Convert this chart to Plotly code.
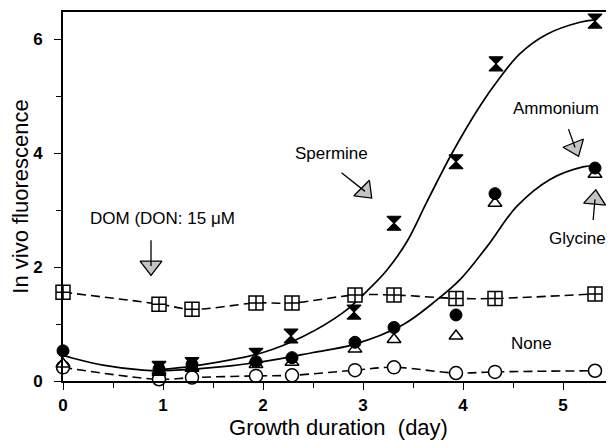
import plotly.graph_objects as go

# ---- data ----
days_sp = [0.96, 1.29, 1.93, 2.28, 2.91, 3.31, 3.93, 4.33, 5.32]
spermine = [0.22, 0.29, 0.45, 0.79, 1.21, 2.77, 3.85, 5.57, 6.32]

days = [0.0, 0.96, 1.29, 1.93, 2.29, 2.92, 3.31, 3.93, 4.32, 5.32]
dom = [1.56, 1.35, 1.26, 1.37, 1.37, 1.51, 1.51, 1.45, 1.45, 1.53]
none_ = [0.24, 0.03, 0.06, 0.09, 0.10, 0.19, 0.24, 0.14, 0.16, 0.18]
ammonium = [0.53, 0.21, 0.29, 0.34, 0.41, 0.68, 0.94, 1.16, 3.29, 3.74]
glycine = [0.30, 0.18, 0.24, 0.29, 0.33, 0.56, 0.73, 0.79, 3.12, 3.63]

# fitted curves
fit_sp_x = [0.96, 1.3, 2.0, 2.4, 2.8, 3.04, 3.24, 3.44, 3.64, 3.89, 4.17, 4.37, 4.57, 4.84, 5.17, 5.32]
fit_sp_y = [0.20, 0.26, 0.50, 0.78, 1.20, 1.58, 1.95, 2.45, 3.15, 4.00, 4.83, 5.33, 5.75, 6.09, 6.30, 6.34]
fit_am_x = [0.0, 0.1, 0.4, 0.8, 1.0, 1.4, 2.0, 2.5, 2.9, 3.4, 3.7, 3.97, 4.24, 4.54, 4.87, 5.2, 5.32]
fit_am_y = [0.45, 0.40, 0.28, 0.19, 0.18, 0.22, 0.34, 0.50, 0.64, 0.99, 1.37, 1.78, 2.36, 3.07, 3.54, 3.76, 3.78]

xticks = [0, 1, 2, 3, 4, 5]
yticks = [0, 2, 4, 6]

FONT = "Liberation Sans"

fig = go.Figure()

# lines
fig.add_trace(go.Scatter(x=days, y=dom, mode="lines", line=dict(color="black", width=1.6, dash="9px,5px", shape="spline"), hoverinfo="skip"))
fig.add_trace(go.Scatter(x=days, y=none_, mode="lines", line=dict(color="black", width=1.6, dash="9px,5px", shape="spline"), hoverinfo="skip"))
fig.add_trace(go.Scatter(x=fit_am_x, y=fit_am_y, mode="lines", line=dict(color="black", width=1.7, shape="spline"), hoverinfo="skip"))
fig.add_trace(go.Scatter(x=fit_sp_x, y=fit_sp_y, mode="lines", line=dict(color="black", width=1.7, shape="spline"), hoverinfo="skip"))

# markers
fig.add_trace(go.Scatter(x=days, y=none_, mode="markers", cliponaxis=False,
                         marker=dict(symbol="circle", size=13, color="white", line=dict(color="black", width=1.5))))
fig.add_trace(go.Scatter(x=days, y=dom, mode="markers", cliponaxis=False,
                         marker=dict(symbol="square-cross", size=14, color="white", line=dict(color="black", width=1.5))))
fig.add_trace(go.Scatter(x=days, y=glycine, mode="markers", cliponaxis=False,
                         marker=dict(symbol="triangle-up", size=12, color="white", line=dict(color="black", width=1.5))))
fig.add_trace(go.Scatter(x=days, y=ammonium, mode="markers", cliponaxis=False,
                         marker=dict(symbol="circle", size=12, color="black", line=dict(color="black", width=1))))
fig.add_trace(go.Scatter(x=days_sp, y=spermine, mode="markers", cliponaxis=False,
                         marker=dict(symbol="hourglass", size=14, color="black", line=dict(color="black", width=1.2))))

# label annotations
labels = [
    ("DOM (DON: 15 μM", 0.99, 2.85),
    ("Spermine", 2.68, 4.0),
    ("Ammonium", 4.93, 4.79),
    ("Glycine", 5.14, 2.51),
    ("None", 4.68, 0.65),
]
for t, x, y in labels:
    fig.add_annotation(x=x, y=y, text=t, showarrow=False, xref="x", yref="y",
                       font=dict(family=FONT, size=17, color="black"))

# arrows: (tail x, tail y, head centre x, head centre y, symbol, angle)
arrows = [
    (0.88, 2.50, 0.88, 2.02, "triangle-down", 0),
    (2.77, 3.68, 3.02, 3.33, "triangle-down", -45),
    (5.05, 4.45, 5.12, 4.10, "triangle-down", -22),
    (5.30, 2.80, 5.32, 3.19, "triangle-up", 5),
]
for tx, ty, hx, hy, sym, ang in arrows:
    fig.add_annotation(x=hx, y=hy, ax=tx, ay=ty, xref="x", yref="y", axref="x", ayref="y",
                       showarrow=True, arrowhead=0, arrowwidth=1.3, arrowcolor="black", text="")
    fig.add_trace(go.Scatter(x=[hx], y=[hy], mode="markers", cliponaxis=False, hoverinfo="skip",
                             marker=dict(symbol=sym, size=19, angle=ang, color="#c4c4c4",
                                         line=dict(color="black", width=1.3))))

# the page body adds an 8px margin; size the figure so it fills the 614x446 window exactly
fig.update_layout(
    width=606, height=438,
    margin=dict(l=55, r=0, t=4, b=65),
    paper_bgcolor="white", plot_bgcolor="white",
    showlegend=False,
    font=dict(family=FONT, color="black"),
)
fig.update_xaxes(
    automargin=False,
    range=[0, 5.51], tickvals=xticks, ticktext=[str(v) for v in xticks],
    ticks="outside", ticklen=7, tickwidth=1.3, tickcolor="black",
    minor=dict(dtick=0.5, tick0=0, ticks="outside", ticklen=5, tickwidth=1.2, tickcolor="black"),
    showline=True, linecolor="black", linewidth=1.6, mirror=True,
    showgrid=False, zeroline=False,
    tickfont=dict(family=FONT, size=17, color="black", weight="bold"),
    ticklabelstandoff=1,
    title=dict(text="Growth duration\u00a0\u00a0(day)", font=dict(family=FONT, size=22, color="black"), standoff=0),
)
fig.update_yaxes(
    automargin=False,
    range=[0, 6.48], tickvals=yticks, ticktext=[str(v) for v in yticks],
    ticks="outside", ticklen=7, tickwidth=1.3, tickcolor="black",
    minor=dict(dtick=1, tick0=0, ticks="outside", ticklen=5, tickwidth=1.2, tickcolor="black"),
    showline=True, linecolor="black", linewidth=1.6, mirror=False,
    showgrid=False, zeroline=False,
    tickfont=dict(family=FONT, size=17, color="black", weight="bold"),
    ticklabelstandoff=8,
    title=dict(text="In vivo fluorescence", font=dict(family=FONT, size=22, color="black"), standoff=4),
)

fig.write_html("out.html")
